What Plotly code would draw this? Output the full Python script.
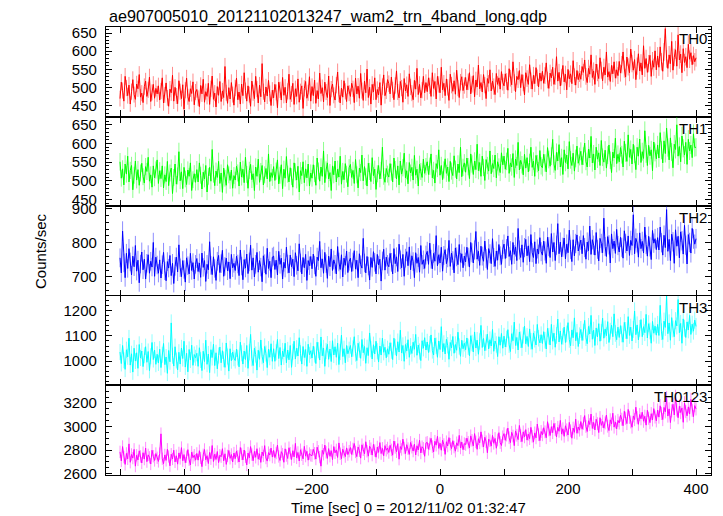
import math
import plotly.graph_objects as go

# ---- data (2-s samples) ----
t_start, t_step = -500, 2

th0 = [
470,515,492,463,531,499,478,507,455,489,522,481,468,510,497,536,474,485,459,503,518,476,494,529,462,487,509,471,498,483,
505,466,491,527,458,480,513,472,449,496,486,534,463,501,477,456,519,489,470,508,441,493,526,475,462,497,484,516,453,488,
495,471,448,506,483,523,460,489,476,512,454,497,532,468,485,447,503,479,517,462,491,473,558,486,457,500,469,514,481,452,
499,526,467,488,455,510,478,541,492,463,505,481,449,518,486,470,531,496,458,507,475,566,489,461,502,477,520,484,451,493,
472,509,487,445,515,494,466,528,479,501,458,490,537,468,483,512,454,497,476,524,460,489,505,443,498,517,471,486,530,463,
503,478,521,457,492,469,540,484,500,461,515,488,473,532,451,496,510,479,466,507,543,482,458,499,474,519,490,462,505,485,
476,512,497,459,526,483,504,471,539,492,465,518,486,551,473,501,455,509,488,527,467,495,480,514,452,503,535,478,491,522,
511,483,529,494,467,506,546,488,472,517,499,460,525,491,508,476,538,502,485,467,520,496,553,481,509,472,493,531,486,514,
489,527,505,476,541,498,517,469,531,509,486,556,494,512,478,524,501,465,537,507,490,519,482,548,499,473,515,530,492,506,
528,494,516,541,483,509,533,475,521,502,562,497,514,488,536,507,470,525,512,549,491,518,503,481,539,509,527,496,544,515,
505,538,517,493,552,526,508,571,514,489,531,522,547,500,536,513,480,541,525,509,563,519,496,534,511,555,527,502,540,518,
545,512,533,568,521,498,540,527,556,509,531,585,518,542,505,529,561,516,537,494,550,524,538,511,574,530,507,547,522,539,
523,558,542,576,531,514,553,537,590,528,546,509,565,541,525,582,548,519,556,535,598,529,544,517,561,538,571,526,549,533,
572,540,563,598,551,529,584,557,541,606,566,548,577,522,559,593,546,568,535,615,553,580,542,566,589,531,574,556,601,549,
587,556,612,571,545,598,662,579,553,590,566,627,548,583,604,559,645,576,592,541,607,569,585,555,619,578,596,563,588,571,
582]

th1 = [
551,507,532,489,545,518,566,497,528,541,476,515,553,502,530,488,521,547,511,494,538,525,563,499,516,483,540,508,529,556,
493,527,506,540,481,516,498,552,487,521,534,466,509,545,491,513,578,500,524,479,536,505,490,529,512,548,474,503,519,496,
530,497,548,515,478,523,505,541,470,512,536,499,584,518,487,526,509,552,493,521,469,534,507,488,543,516,501,529,480,514,
502,539,521,486,550,510,531,495,563,517,480,528,544,503,519,474,537,512,558,496,525,541,489,516,533,505,572,498,522,509,
538,501,526,556,492,515,543,479,531,507,565,518,497,535,511,483,548,524,502,539,470,527,514,551,495,532,508,545,486,521,
507,543,519,488,561,526,499,537,512,580,495,529,548,505,522,474,540,516,553,497,531,510,566,491,525,503,546,518,484,535,
544,509,528,493,557,516,481,534,522,569,500,538,511,486,547,525,498,562,514,531,477,519,541,505,528,590,512,496,533,518,
510,546,523,497,561,530,505,540,489,553,518,535,574,508,527,492,549,521,536,502,568,515,531,486,544,525,509,558,520,538,
551,517,539,572,508,528,494,546,533,583,515,541,503,529,559,520,537,498,552,526,514,567,531,505,545,522,590,511,536,548,
523,561,538,506,572,545,517,553,530,598,527,549,512,566,536,501,557,541,526,580,519,546,533,569,508,551,537,522,575,543,
566,531,552,587,520,548,537,573,509,558,541,603,529,555,543,516,571,534,562,524,549,590,536,553,512,568,546,527,581,540,
535,571,548,524,589,557,539,566,611,545,528,576,553,597,537,562,517,583,549,569,532,605,556,541,574,526,560,593,547,565,
579,543,566,601,552,537,585,561,619,548,572,529,590,558,575,541,608,563,550,582,534,569,596,555,522,577,561,614,546,571,
551,589,570,537,606,575,552,623,563,584,545,598,571,530,590,566,612,549,578,560,634,572,541,595,567,583,527,604,576,559,
596,561,629,582,548,607,573,641,589,556,615,577,535,598,584,650,566,592,551,620,587,569,603,544,611,580,596,562,626,589,
590]

th2 = [
756,712,834,741,698,769,725,783,744,706,761,730,792,717,749,683,738,773,721,752,694,740,765,711,746,729,801,702,758,735,
711,750,697,736,772,718,689,745,726,763,704,740,681,731,758,715,794,727,701,748,722,685,756,733,709,769,719,742,694,737,
754,716,741,699,770,728,748,687,737,721,803,734,707,759,725,690,746,763,713,739,778,702,731,755,718,744,695,766,727,740,
719,761,738,704,779,732,692,751,726,767,710,744,793,720,756,700,737,772,714,748,729,686,762,739,708,784,725,746,698,758,
761,722,749,706,775,737,755,694,743,726,787,738,712,764,730,752,701,771,734,718,797,741,709,757,727,766,690,748,733,760,
724,767,735,702,758,748,804,727,753,711,772,739,696,761,730,782,719,750,737,709,789,744,722,765,700,755,734,776,713,746,
755,716,744,777,723,749,698,768,736,726,813,741,712,760,732,691,757,728,774,743,709,766,735,752,688,747,781,720,758,737,
730,769,743,709,783,739,759,716,796,750,727,766,702,755,774,733,788,721,762,745,698,771,740,757,714,792,737,750,725,764,
775,737,799,752,724,769,746,821,733,765,741,787,717,763,780,739,756,807,731,770,748,712,785,759,736,795,743,768,727,761,
744,787,758,729,801,771,741,779,833,752,775,734,790,761,746,805,754,722,783,768,739,812,757,731,776,749,795,762,737,781,
796,754,783,820,760,777,737,801,766,788,748,842,779,757,794,743,786,810,762,791,745,824,771,757,803,739,782,767,815,774,
764,805,776,740,816,789,757,827,773,801,748,793,856,768,802,759,787,814,753,796,771,837,780,745,809,762,798,823,776,791,
808,768,821,786,752,802,777,849,766,809,793,764,830,781,747,813,798,771,872,789,760,818,794,741,826,783,805,769,839,792,
773,816,787,755,835,798,776,820,763,807,792,882,768,813,800,758,829,783,804,770,846,795,761,819,788,751,836,799,812,780,
815,779,846,800,764,822,786,897,775,810,748,825,803,740,838,790,819,756,832,806,767,851,793,738,824,801,770,842,811,796,
812]

th3 = [
1036,990,1062,1003,967,1045,1017,1091,984,1029,956,1051,1000,1033,971,1066,1012,1040,978,1023,1057,995,1038,962,1019,1074,1006,1044,987,1027,
992,1047,974,1025,1070,986,1016,951,1042,997,1152,1021,980,1057,1002,965,1035,988,1052,1010,1079,976,1031,957,1046,1004,1063,983,1026,1013,
1031,979,1053,1004,962,1039,998,1083,987,1028,954,1045,1014,1067,982,1033,969,1022,1056,993,1041,1007,975,1072,1018,960,1049,1001,1036,1011,
1002,1048,1014,977,1075,1031,988,1040,1006,1062,971,1035,1106,1011,982,1051,1026,964,1043,1007,1084,1019,993,1058,1030,974,1047,1015,1069,999,
1049,999,1035,1086,1010,1054,984,1040,1017,1071,993,1044,1005,1062,975,1037,1079,1008,1051,1020,1093,1031,988,1058,1014,1046,979,1067,1025,1041,
1012,1059,1026,990,1075,1043,1004,1096,1021,1052,979,1040,1067,1007,1048,998,1081,1024,1057,1015,1071,986,1036,1103,1018,1049,993,1062,1029,1045,
1062,1017,1050,1097,1030,1002,1071,1045,1011,1086,1033,1058,991,1053,1022,1112,1047,1008,1065,1028,1079,1039,996,1060,1024,1091,1035,1055,1013,1049,
1027,1073,1041,1006,1091,1056,1020,1077,1036,1123,1032,1062,999,1066,1040,1085,1015,1059,1030,1075,1047,1106,1023,1064,1038,1002,1081,1051,1093,1044,
1076,1034,1067,1104,1042,1024,1092,1061,1015,1080,1046,1137,1037,1070,1028,1087,1063,1007,1074,1052,1098,1031,1066,1043,1115,1058,1019,1083,1049,1071,
1045,1092,1057,1021,1101,1072,1036,1116,1052,1083,1027,1078,1142,1054,1090,1041,1074,1107,1048,1085,1060,1126,1039,1080,1066,1018,1097,1063,1110,1051,
1099,1056,1088,1125,1065,1038,1109,1081,1155,1062,1094,1044,1116,1085,1053,1103,1139,1069,1098,1058,1128,1079,1047,1112,1087,1064,1146,1091,1072,1105,
1070,1117,1083,1048,1130,1099,1064,1146,1079,1111,1055,1102,1167,1076,1120,1067,1098,1135,1074,1108,1153,1086,1061,1124,1093,1172,1081,1114,1058,1101,
1126,1082,1115,1162,1093,1069,1138,1108,1182,1087,1123,1062,1132,1096,1149,1079,1114,1171,1091,1128,1101,1157,1074,1119,1143,1097,1188,1110,1085,1135,
1094,1141,1108,1075,1154,1122,1089,1177,1102,1135,1080,1126,1199,1105,1144,1084,1130,1165,1097,1137,1113,1186,1092,1149,1120,1071,1158,1111,1139,1103,
1146,1102,1222,1117,1086,1159,1134,1260,1109,1152,1083,1173,1128,1097,1161,1140,1245,1113,1150,1071,1168,1131,1094,1156,1124,1182,1106,1147,1119,1163,
1138]

th0123 = [
2785,2708,2830,2741,2679,2772,2726,2853,2697,2763,2732,2806,2664,2757,2717,2794,2746,2691,2778,2724,2817,2702,2760,2739,2682,2799,2748,2712,2771,2735,
2704,2770,2938,2727,2685,2759,2713,2807,2746,2667,2765,2725,2799,2700,2752,2681,2776,2729,2821,2710,2762,2693,2744,2804,2718,2674,2783,2736,2757,2715,
2772,2715,2795,2734,2660,2760,2805,2718,2753,2686,2780,2727,2839,2703,2766,2721,2788,2694,2757,2744,2812,2709,2769,2679,2751,2797,2730,2763,2699,2775,
2728,2793,2747,2699,2822,2768,2717,2801,2742,2674,2775,2735,2830,2762,2710,2789,2739,2812,2723,2769,2696,2784,2751,2838,2733,2707,2779,2758,2817,2741,
2798,2737,2776,2843,2746,2712,2787,2766,2697,2811,2754,2729,2820,2773,2720,2795,2743,2857,2734,2780,2708,2803,2761,2726,2832,2749,2790,2715,2771,2756,
2753,2807,2773,2724,2825,2790,2741,2664,2798,2765,2843,2781,2730,2813,2748,2795,2719,2830,2777,2802,2738,2861,2769,2727,2808,2784,2745,2819,2762,2791,
2822,2763,2810,2856,2785,2745,2827,2794,2732,2845,2803,2768,2871,2790,2749,2833,2812,2758,2849,2797,2740,2826,2781,2864,2771,2815,2752,2838,2799,2818,
2780,2841,2802,2757,2877,2823,2786,2855,2723,2830,2806,2893,2818,2771,2846,2813,2764,2865,2825,2792,2850,2759,2837,2801,2884,2776,2829,2815,2748,2860,
2866,2807,2853,2900,2830,2784,2875,2842,2917,2815,2859,2799,2884,2847,2764,2871,2835,2906,2850,2813,2880,2826,2791,2862,2838,2925,2818,2869,2804,2855,
2847,2902,2866,2819,2921,2883,2836,2940,2870,2807,2897,2862,2955,2878,2827,2909,2871,2778,2893,2880,2834,2925,2858,2899,2816,2886,2948,2864,2839,2913,
2940,2883,2928,2987,2905,2864,2951,2919,2838,2963,2926,2889,3009,2922,2872,2955,2912,2974,2885,2935,2897,2993,2917,2868,2946,2904,3021,2931,2880,2958,
2930,2990,2955,2905,3041,2971,2924,2999,2948,3026,2976,2911,2993,2960,3052,2936,2981,2917,3007,2972,2928,3035,2964,2901,2987,2951,3063,2943,2996,2969,
3042,2977,3028,3093,3001,2958,3049,3017,3106,2984,3035,2971,3062,3024,2949,3075,3010,3044,2987,3031,3098,3003,2966,3057,3021,3113,2995,3039,2980,3052,
3030,3096,3062,3007,3129,3071,3025,3145,3078,3039,2994,3090,3059,3164,3075,3019,3102,3066,3121,3045,3087,3012,3138,3070,3033,3109,3056,3152,3081,3048,
3140,3080,3176,3111,3059,3162,3125,3245,3089,3150,3034,3133,3189,3098,3255,3141,3075,3172,3119,3158,3036,3201,3127,3091,3167,3106,3230,3138,3084,3178,
3150]

series_names = ["TH0", "TH1", "TH2", "TH3", "TH0123"]
series_vals = [th0, th1, th2, th3, th0123]
y_ranges = [[420.6, 666.5], [432, 672], [645, 907], [903, 1260], [2589, 3349]]
y_dticks = [50, 50, 100, 100, 200]
y_minor = [10, 10, 20, 20, 50]
x_tickvals = [-500, -400, -300, -200, -100, 0, 100, 200, 300, 400]
x_ticktext = ["", "\u2212400", "", "\u2212200", "", "0", "", "200", "", "400"]

colors = ["#ff0000", "#00ff00", "#0000ff", "#00ffff", "#ff00ff"]
err_colors = ["rgba(255,0,0,0.45)", "rgba(0,255,0,0.45)", "rgba(0,0,255,0.45)",
              "rgba(0,255,255,0.45)", "rgba(255,0,255,0.45)"]

# page body adds an 8px margin; the figure is sized/placed to compensate
OFF = 8
W, H = 723 - OFF, 516 - OFF
left, right, top, bottom = 106 - OFF, 711 - OFF, 27.3 - OFF, 475.3 - OFF
n = len(series_names)
ph = (bottom - top) / n
plot_h = bottom - top

time = [t_start + t_step * i for i in range(len(th0))]

fig = go.Figure()
FONT = "Liberation Sans, Arial, Helvetica, sans-serif"

for i, (name, vals) in enumerate(zip(series_names, series_vals)):
    k = i + 1
    xa = "x" if k == 1 else f"x{k}"
    ya = "y" if k == 1 else f"y{k}"
    errs = [math.sqrt(v) for v in vals]
    fig.add_trace(go.Scatter(
        x=time, y=vals, mode="lines", xaxis=xa, yaxis=ya,
        line=dict(color=colors[i], width=1),
        error_y=dict(type="data", array=errs, visible=True, color=err_colors[i],
                     thickness=1, width=0),
        showlegend=False, hoverinfo="skip"))

    ptop = top + i * ph
    pbot = ptop + ph
    xkey = "xaxis" if k == 1 else f"xaxis{k}"
    ykey = "yaxis" if k == 1 else f"yaxis{k}"
    d0 = (bottom - pbot) / plot_h
    d1 = (bottom - ptop) / plot_h
    fig.layout[xkey] = dict(
        domain=[0, 1], anchor=ya, range=[-521.9, 423.4],
        tickmode="array", tickvals=x_tickvals,
        ticktext=x_ticktext if k == n else [""] * len(x_tickvals),
        showticklabels=(k == n),
        ticks="inside", ticklen=6, tickwidth=1, tickcolor="#000",
        showline=True, linecolor="#000", linewidth=1.3, mirror="allticks",
        showgrid=False, zeroline=False,
        tickfont=dict(size=15, color="#000", family=FONT),
        matches=None if k == 1 else "x")
    fig.layout[ykey] = dict(
        domain=[d0, d1], anchor=xa, range=y_ranges[i],
        dtick=y_dticks[i], tick0=0,
        ticks="inside", ticklen=6, tickwidth=1, tickcolor="#000",
        ticklabelstandoff=5,
        minor=dict(dtick=y_minor[i], ticks="inside", ticklen=3, tickcolor="#000", tickwidth=1),
        showline=True, linecolor="#000", linewidth=1.3, mirror="allticks",
        showgrid=False, zeroline=False,
        tickfont=dict(size=15, color="#000", family=FONT))
    fig.add_annotation(
        text=name, xref="paper", yref="paper",
        x=1.0, y=d1, xanchor="right", yanchor="top", showarrow=False,
        xshift=-2, yshift=-1,
        font=dict(size=15, color="#000", family=FONT))

fig.add_annotation(
    text="ae907005010_20121102013247_wam2_trn_4band_long.qdp",
    xref="paper", yref="paper", x=0, y=1, xanchor="left", yanchor="bottom",
    xshift=2, yshift=-0.5, borderpad=0, showarrow=False,
    font=dict(size=16.2, color="#000", family=FONT))
fig.add_annotation(
    text="Counts/sec", xref="paper", yref="paper", x=0, y=0.5,
    xanchor="center", yanchor="middle", xshift=-(106 - 40), textangle=-90,
    showarrow=False, font=dict(size=15, color="#000", family=FONT))
fig.add_annotation(
    text="Time [sec] 0 = 2012/11/02 01:32:47", xref="paper", yref="paper",
    x=(408 - 106) / (711 - 106), y=0, xanchor="center", yanchor="middle",
    yshift=-(508 - 475.3), borderpad=0, showarrow=False,
    font=dict(size=15, color="#000", family=FONT))

fig.update_layout(
    width=W, height=H,
    margin=dict(l=left, r=W - right, t=top, b=H - bottom, pad=0),
    paper_bgcolor="#fff", plot_bgcolor="#fff",
    font=dict(family=FONT, color="#000"))

fig.write_html("out.html")
